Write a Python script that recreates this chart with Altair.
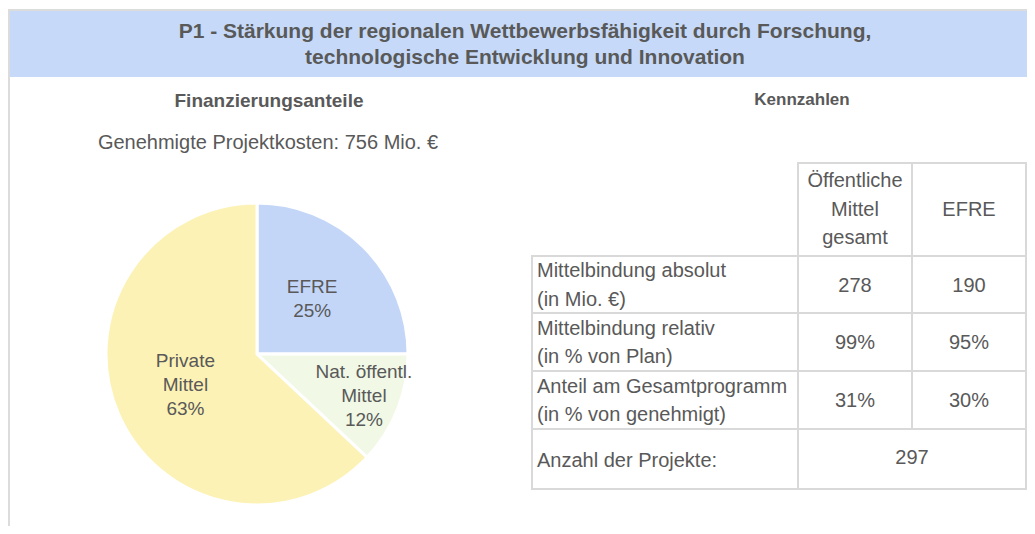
import altair as alt
import pandas as pd

# ---------------- data ----------------
title_lines = ["P1 - Stärkung der regionalen Wettbewerbsfähigkeit durch Forschung,",
               "technologische Entwicklung und Innovation"]
left_title = "Finanzierungsanteile"
left_subtitle = "Genehmigte Projektkosten: 756 Mio. €"
right_title = "Kennzahlen"

pie_categories = ["EFRE", "Nat. öffentl.\nMittel", "Private\nMittel"]
pie_shares = [25, 12, 63]

col_headers = ["Öffentliche\nMittel\ngesamt", "EFRE"]
row_labels = ["Mittelbindung absolut\n(in Mio. €)",
              "Mittelbindung relativ\n(in % von Plan)",
              "Anteil am Gesamtprogramm\n(in % von genehmigt)"]
oeff_values = ["278", "99%", "31%"]
efre_values = ["190", "95%", "30%"]
projects_label = "Anzahl der Projekte:"
projects_count = 297

# ---------------- layout / style ----------------
W, H = 1019, 518
TEXT = "#595959"
GRID = "#d9d9d9"
FRAME = "#dcdcdc"
BAND = "#c6d9f8"
PIE_COLORS = ["#c3d6f8", "#f1f8e6", "#fdf2b5"]
FONT = "Liberation Sans"
BODY = 20
PIE_CX, PIE_CY, PIE_R = 249, 346, 151
PIE_LH = 24
LABEL_R = {0: 78, 1: 115, 2: 78}
COL_X = [524, 790, 904, 1018]
ROW_Y = [155, 248, 305, 363, 421, 481]
CELL_LH = 28.5

xs = alt.Scale(domain=[0, W], nice=False, zero=False)
ys = alt.Scale(domain=[0, H], nice=False, zero=False, reverse=True)
theta_scale = alt.Scale(domain=[0, sum(pie_shares)])


def top_of(center, text, lh):
    n = text.count("\n") + 1
    return center - (n - 1) / 2 * lh


def rect_layer(df, fill, stroke=None, sw=0):
    kw = dict(fill=fill)
    if stroke:
        kw.update(stroke=stroke, strokeWidth=sw)
    return alt.Chart(df).mark_rect(**kw).encode(
        x=alt.X("x:Q", scale=xs, axis=None), x2="x2:Q",
        y=alt.Y("y:Q", scale=ys, axis=None), y2="y2:Q")


def text_layer(df, size, bold=False, align="center", lh=None):
    kw = dict(font=FONT, fontSize=size, color=TEXT, align=align,
              baseline="middle", lineBreak="\n",
              fontWeight="bold" if bold else "normal")
    if lh:
        kw["lineHeight"] = lh
    return alt.Chart(df).mark_text(**kw).encode(
        x=alt.X("x:Q", scale=xs, axis=None),
        y=alt.Y("y:Q", scale=ys, axis=None),
        text="t:N")


# frame
frame = rect_layer(pd.DataFrame([
    {"x": 0, "x2": W, "y": 1, "y2": 3},
    {"x": 0, "x2": 2, "y": 1, "y2": H},
]), FRAME)
band = rect_layer(pd.DataFrame([{"x": 2, "x2": W, "y": 3, "y2": 69}]), BAND)

header_text = text_layer(pd.DataFrame([
    {"x": 517, "y": 24, "t": title_lines[0]},
    {"x": 517, "y": 50, "t": title_lines[1]},
]), 21, bold=True)

left_title_t = text_layer(pd.DataFrame([{"x": 261, "y": 93, "t": left_title}]), 19, bold=True)
right_title_t = text_layer(pd.DataFrame([{"x": 794, "y": 92, "t": right_title}]), 17, bold=True)
subtitle = text_layer(pd.DataFrame([{"x": 260, "y": 135, "t": left_subtitle}]), BODY)

# pie
pie_df = pd.DataFrame({
    "cat": pie_categories,
    "share": pie_shares,
    "idx": list(range(len(pie_shares))),
})
pie_df["label"] = [f"{c}\n{s}%" for c, s in zip(pie_categories, pie_shares)]
pie_df["lr"] = [LABEL_R[i] for i in pie_df["idx"]]
pie_df["nl"] = [lbl.count("\n") + 1 for lbl in pie_df["label"]]

pie = alt.Chart(pie_df).mark_arc(stroke="white", strokeWidth=3).encode(
    theta=alt.Theta("share:Q", stack=True, scale=theta_scale),
    order=alt.Order("idx:Q"),
    color=alt.Color("cat:N", scale=alt.Scale(domain=pie_categories, range=PIE_COLORS), legend=None),
    x=alt.value(PIE_CX), y=alt.value(PIE_CY),
    radius=alt.value(PIE_R),
)


def pie_label_layer(nlines):
    return alt.Chart(pie_df).transform_window(
        cum="sum(share)", sort=[alt.SortField("idx", order="ascending")], frame=[None, 0]
    ).transform_calculate(
        mid="datum.cum - datum.share / 2"
    ).transform_filter(
        alt.datum.nl == nlines
    ).mark_text(
        font=FONT, fontSize=19, color=TEXT, align="center", baseline="middle",
        lineBreak="\n", lineHeight=PIE_LH, dy=-(nlines - 1) / 2 * PIE_LH
    ).encode(
        theta=alt.Theta("mid:Q", stack=None, scale=theta_scale),
        radius=alt.Radius("lr:Q", scale=None),
        x=alt.value(PIE_CX), y=alt.value(PIE_CY),
        text="label:N",
    )


pie_labels = [pie_label_layer(n) for n in sorted(set(pie_df["nl"]))]

# table cells
cells = []
for c in range(2):
    cells.append({"x": COL_X[c + 1], "x2": COL_X[c + 2], "y": ROW_Y[0], "y2": ROW_Y[1]})
for r in range(3):
    for c in range(3):
        cells.append({"x": COL_X[c], "x2": COL_X[c + 1], "y": ROW_Y[r + 1], "y2": ROW_Y[r + 2]})
cells.append({"x": COL_X[0], "x2": COL_X[1], "y": ROW_Y[4], "y2": ROW_Y[5]})
cells.append({"x": COL_X[1], "x2": COL_X[3], "y": ROW_Y[4], "y2": ROW_Y[5]})
table_cells = rect_layer(pd.DataFrame(cells), "white", GRID, 2)

hdr_rows = []
for c, h in enumerate(col_headers):
    cy = (ROW_Y[0] + ROW_Y[1]) / 2
    hdr_rows.append({"x": (COL_X[c + 1] + COL_X[c + 2]) / 2, "y": top_of(cy, h, CELL_LH), "t": h})
header_cells = text_layer(pd.DataFrame(hdr_rows), BODY, lh=CELL_LH)

lab_rows, val_rows = [], []
for r in range(3):
    cy = (ROW_Y[r + 1] + ROW_Y[r + 2]) / 2 + 1
    lab_rows.append({"x": COL_X[0] + 5, "y": top_of(cy, row_labels[r], CELL_LH), "t": row_labels[r]})
    val_rows.append({"x": (COL_X[1] + COL_X[2]) / 2, "y": cy, "t": oeff_values[r]})
    val_rows.append({"x": (COL_X[2] + COL_X[3]) / 2, "y": cy, "t": efre_values[r]})
lab_rows.append({"x": COL_X[0] + 5, "y": (ROW_Y[4] + ROW_Y[5]) / 2 + 2, "t": projects_label})
val_rows.append({"x": (COL_X[1] + COL_X[3]) / 2, "y": (ROW_Y[4] + ROW_Y[5]) / 2 - 1, "t": str(projects_count)})
row_label_text = text_layer(pd.DataFrame(lab_rows), BODY, align="left", lh=CELL_LH)
value_text = text_layer(pd.DataFrame(val_rows), BODY)

chart = alt.layer(
    frame, band, header_text, left_title_t, right_title_t, subtitle,
    pie, *pie_labels, table_cells, header_cells, row_label_text, value_text,
).properties(
    width=W, height=H, padding=0,
    autosize=alt.AutoSizeParams(type="fit", contains="padding"),
    background="white",
).configure_view(stroke=None)

chart.save("out.html", embed_options={"renderer": "svg", "actions": False})
